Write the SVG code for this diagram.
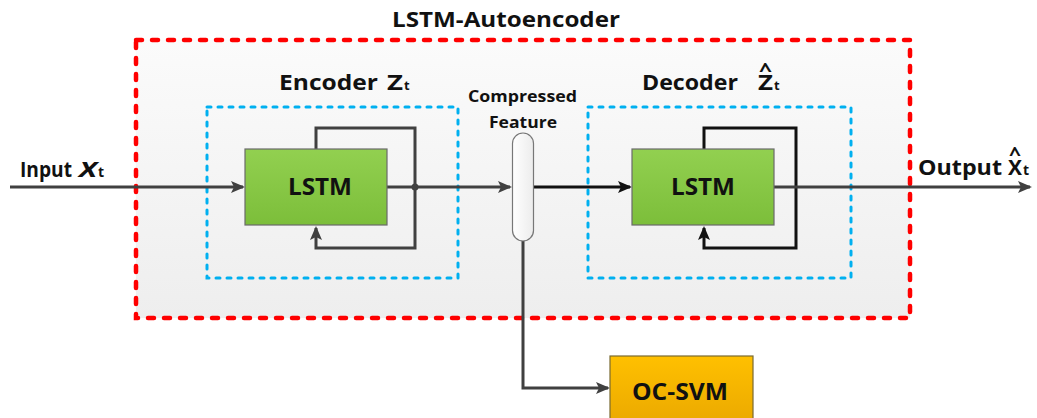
<svg xmlns="http://www.w3.org/2000/svg" width="1037" height="418" viewBox="0 0 1037 418">
<style>
text{font-family:"Open Sans","Liberation Sans",sans-serif;font-weight:bold;fill:#111}
.ln{fill:none;stroke:#404040;stroke-width:3}
.lk{fill:none;stroke:#111;stroke-width:3}
.blue{fill:none;stroke:#00b0f0;stroke-width:3;stroke-dasharray:4 7;stroke-linecap:round}
.red{stroke:#ff0000;stroke-width:4.5;stroke-dasharray:6 10;stroke-linecap:round}
.lstm{fill:url(#g);stroke:#6a6a6a;stroke-width:1.2}
</style>
<defs>
<linearGradient id="bg" x1="0" y1="0" x2="0" y2="1"><stop offset="0" stop-color="#fbfbfb"/><stop offset="1" stop-color="#eeeeee"/></linearGradient>
<linearGradient id="g" x1="0" y1="0" x2="0" y2="1"><stop offset="0" stop-color="#92d050"/><stop offset="1" stop-color="#7cbe3a"/></linearGradient>
<linearGradient id="o" x1="0" y1="0" x2="0" y2="1"><stop offset="0" stop-color="#ffc000"/><stop offset="1" stop-color="#eaa800"/></linearGradient>
<linearGradient id="p" x1="0" y1="0" x2="1" y2="0"><stop offset="0" stop-color="#ffffff"/><stop offset="1" stop-color="#ececec"/></linearGradient>
<marker id="a2" markerWidth="14" markerHeight="14" refX="12" refY="7" orient="auto" markerUnits="userSpaceOnUse" viewBox="0 0 14 14"><path d="M0,1 L14,7 L0,13 L3,7 Z" fill="#404040"/></marker>
<marker id="ak2" markerWidth="14" markerHeight="14" refX="12" refY="7" orient="auto" markerUnits="userSpaceOnUse" viewBox="0 0 14 14"><path d="M0,1 L14,7 L0,13 L3,7 Z" fill="#111"/></marker>
</defs>
<rect width="1037" height="418" fill="#ffffff"/>
<g id="autoencoder">
<rect x="136" y="40" width="774" height="278" fill="url(#bg)" class="red"/>
<text x="392" y="27" font-size="21" textLength="228" lengthAdjust="spacingAndGlyphs">LSTM-Autoencoder</text>
</g>
<g id="encoder">
<rect x="207" y="107" width="251" height="171" class="blue"/>
<text x="279" y="90" font-size="21"><tspan textLength="99" lengthAdjust="spacingAndGlyphs">Encoder</tspan><tspan x="387" textLength="16" lengthAdjust="spacingAndGlyphs">Z</tspan><tspan x="404" font-size="13">t</tspan></text>
</g>
<g id="decoder">
<rect x="588" y="107" width="263" height="171" class="blue"/>
<text x="642" y="90" font-size="21"><tspan textLength="96" lengthAdjust="spacingAndGlyphs">Decoder</tspan><tspan x="758" textLength="15" lengthAdjust="spacingAndGlyphs">Z</tspan><tspan x="774" font-size="13">t</tspan><tspan x="759" y="77" font-size="20" textLength="13" lengthAdjust="spacingAndGlyphs">^</tspan></text>
</g>
<g id="connectors">
<path d="M10,187 H243" class="ln" marker-end="url(#a2)"/>
<path d="M387,187 H510" class="ln" marker-end="url(#a2)"/>
<path d="M316,149 V128 H415 V248 H316 V228" class="ln" marker-end="url(#a2)"/>
<circle cx="415" cy="187" r="3.5" fill="#404040"/>
<path d="M533,187 H630" class="lk" marker-end="url(#ak2)"/>
<path d="M704,149 V128 H796 V248 H704 V228" class="lk" marker-end="url(#ak2)"/>
<path d="M774,187 H1030" class="ln" marker-end="url(#a2)"/>
<path d="M523,240 V388 H608" class="ln" marker-end="url(#a2)"/>
</g>
<g id="lstm-enc">
<rect x="245" y="149" width="142" height="76" class="lstm"/>
<text x="288" y="195" font-size="23" textLength="64" lengthAdjust="spacingAndGlyphs">LSTM</text>
</g>
<g id="lstm-dec">
<rect x="632" y="149" width="142" height="76" class="lstm"/>
<text x="671" y="195" font-size="23" textLength="64" lengthAdjust="spacingAndGlyphs">LSTM</text>
</g>
<g id="compressed">
<rect x="512.5" y="133" width="21" height="108" rx="10.5" fill="url(#p)" stroke="#777" stroke-width="1.2"/>
<text x="468" y="102" font-size="16" textLength="109" lengthAdjust="spacingAndGlyphs">Compressed</text>
<text x="489" y="128" font-size="16" textLength="68" lengthAdjust="spacingAndGlyphs">Feature</text>
</g>
<g id="input">
<text x="20" y="177" font-size="21"><tspan textLength="52" lengthAdjust="spacingAndGlyphs">Input</tspan><tspan x="79" font-style="italic" textLength="18" lengthAdjust="spacingAndGlyphs">X</tspan><tspan x="98" font-size="14">t</tspan></text>
</g>
<g id="output">
<text x="918" y="175" font-size="21"><tspan textLength="84" lengthAdjust="spacingAndGlyphs">Output</tspan><tspan x="1008" textLength="14" lengthAdjust="spacingAndGlyphs">X</tspan><tspan x="1023" font-size="14">t</tspan><tspan x="1009" y="161" font-size="20" textLength="12" lengthAdjust="spacingAndGlyphs">^</tspan></text>
</g>
<g id="ocsvm">
<rect x="610" y="356" width="143" height="70" fill="url(#o)" stroke="#7a6a30" stroke-width="1.2"/>
<text x="632" y="400" font-size="23" textLength="96" lengthAdjust="spacingAndGlyphs">OC-SVM</text>
</g>
</svg>
